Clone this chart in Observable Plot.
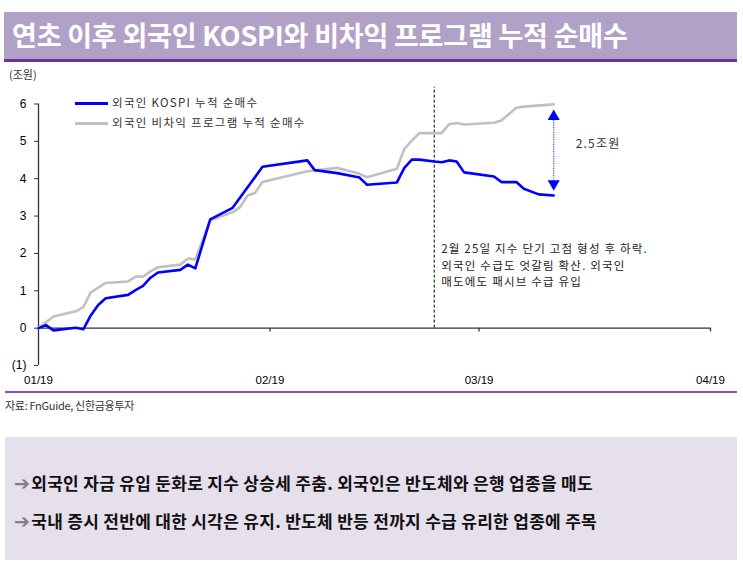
<!DOCTYPE html>
<html><head><meta charset="utf-8">
<script src="https://cdn.jsdelivr.net/npm/d3@7"></script>
<script src="https://cdn.jsdelivr.net/npm/@observablehq/plot@0.6"></script>
<style>
html,body{margin:0;padding:0;background:#fff;}
#page{position:relative;width:743px;height:565px;overflow:hidden;font-family:"Noto Sans CJK KR","Noto Sans",sans-serif;}
#title{position:absolute;left:4px;top:12px;width:733px;height:47px;background:#b2a1c7;border-bottom:3px solid #7030a0;}
#title span{position:absolute;left:8px;top:3px;color:#fff;font-weight:700;font-size:27px;letter-spacing:-0.2px;white-space:nowrap;}
#unit{position:absolute;left:9px;top:66px;font-size:11px;color:#333;}
#chart{position:absolute;left:0;top:64px;}
#chart text.kr{letter-spacing:1.2px;}
.leg{position:absolute;left:75px;width:33px;height:3px;}
.legt{position:absolute;left:112px;font-size:11.5px;color:#333;white-space:nowrap;letter-spacing:1.3px;}
#rule{position:absolute;left:5px;top:391px;width:732px;height:2px;background:#8a50c0;}
#src{position:absolute;left:5px;top:397px;font-size:11px;color:#333;letter-spacing:-0.3px;font-family:"Liberation Sans Narrow","Noto Sans CJK KR",sans-serif;}
#box{position:absolute;left:5px;top:437px;width:732px;height:123px;background:#e5e0ec;}
.bul{position:absolute;left:9px;font-size:17px;font-weight:700;color:#111;white-space:nowrap;letter-spacing:0.3px;}
.bul b{font-family:"DejaVu Sans";color:#7f7f7f;font-size:19px;line-height:17px;margin-right:1px;}
</style></head>
<body><div id="page">
<div id="title"><span>연초 이후 외국인 KOSPI와 비차익 프로그램 누적 순매수</span></div>
<div id="unit">(조원)</div>
<div id="chart"></div>
<div class="leg" style="top:102px;background:#0000ff"></div>
<div class="legt" style="top:94px">외국인 KOSPI 누적 순매수</div>
<div class="leg" style="top:122px;background:#c0c0c0"></div>
<div class="legt" style="top:114px">외국인 비차익 프로그램 누적 순매수</div>
<div id="rule"></div>
<div id="src">자료: FnGuide, 신한금융투자</div>
<div id="box">
<div class="bul" style="top:33px"><b>➔</b>외국인 자금 유입 둔화로 지수 상승세 주춤. 외국인은 반도체와 은행 업종을 매도</div>
<div class="bul" style="top:71px"><b>➔</b>국내 증시 전반에 대한 시각은 유지. 반도체 반등 전까지 수급 유리한 업종에 주목</div>
</div>
</div>
<script>
const blueDates = ["2019-01-01","2019-01-02","2019-01-03","2019-01-06","2019-01-07","2019-01-08","2019-01-09","2019-01-10","2019-01-13","2019-01-14","2019-01-15","2019-01-16","2019-01-17","2019-01-20","2019-01-21","2019-01-22","2019-01-24","2019-01-27","2019-01-31","2019-02-06","2019-02-07","2019-02-10","2019-02-13","2019-02-14","2019-02-18","2019-02-19","2019-02-20","2019-02-21","2019-02-23","2019-02-24","2019-02-25","2019-02-26","2019-02-27","2019-03-03","2019-03-04","2019-03-06","2019-03-07","2019-03-09","2019-03-11"];
const blueValues = [0,0.08,-0.06,0.01,-0.03,0.34,0.62,0.80,0.89,1.02,1.13,1.35,1.49,1.56,1.70,1.60,2.91,3.22,4.32,4.49,4.23,4.15,4.03,3.84,3.90,4.29,4.51,4.51,4.46,4.44,4.49,4.46,4.17,4.06,3.91,3.91,3.73,3.58,3.55];
const greyDates = ["2019-01-01","2019-01-03","2019-01-06","2019-01-07","2019-01-08","2019-01-10","2019-01-13","2019-01-14","2019-01-15","2019-01-16","2019-01-17","2019-01-20","2019-01-21","2019-01-22","2019-01-24","2019-01-27","2019-01-28","2019-01-29","2019-01-30","2019-01-31","2019-02-06","2019-02-10","2019-02-13","2019-02-14","2019-02-18","2019-02-19","2019-02-20","2019-02-21","2019-02-24","2019-02-25","2019-02-26","2019-02-27","2019-03-03","2019-03-04","2019-03-06","2019-03-07","2019-03-11"];
const greyValues = [0,0.31,0.45,0.56,0.96,1.21,1.25,1.38,1.38,1.52,1.63,1.70,1.86,1.84,2.89,3.10,3.24,3.55,3.62,3.91,4.20,4.29,4.13,4.04,4.27,4.80,5.02,5.22,5.22,5.46,5.49,5.45,5.50,5.56,5.90,5.93,5.99];
const xTickDates = ["2019-01-01","2019-02-01","2019-03-01","2019-04-01"];
const yTicks = [-1,0,1,2,3,4,5,6];
const eventDate = "2019-02-23";
const eventTop = 6.45;
const gapTop = 5.77, gapBottom = 3.76;
const gapLabel = "2.5조원";
const noteText = "2월 25일 지수 단기 고점 형성 후 하락.\n외국인 수급도 엇갈림 확산. 외국인\n매도에도 패시브 수급 유입";
const noteY = 2.33;

const P = d3.utcParse("%Y-%m-%d");
const blue = blueDates.map((d,i)=>({date:P(d), v:blueValues[i]}));
const grey = greyDates.map((d,i)=>({date:P(d), v:greyValues[i]}));
const xTicks = xTickDates.map(P);
const ev = P(eventDate);
const last = blue[blue.length-1].date;

const chart = Plot.plot({
  width: 743, height: 326,
  marginLeft: 38, marginRight: 33, marginTop: 39.5, marginBottom: 25,
  style: {fontFamily: "'Liberation Sans', Arial, sans-serif", fontSize: "12px", color: "#000", background: "transparent", overflow: "visible"},
  x: {type: "utc", domain: [xTicks[0], xTicks[xTicks.length-1]]},
  y: {domain: [-1, 6]},
  marks: [
    Plot.axisY({ticks: yTicks, tickSize: 4, tickPadding: 8, tickFormat: d => d < 0 ? `(${-d})` : `${d}`, label: null, stroke: "#333", fill: "#000", fontSize: 12}),
    Plot.axisX({ticks: xTicks, tickSize: 0, tickPadding: 10, tickFormat: d3.utcFormat("%m/%y"), label: null, fontSize: 11.5}),
    Plot.ruleX([xTicks[0]], {y1: -1, y2: 6, stroke: "#333", strokeWidth: 1.3}),
    Plot.ruleY([0], {x1: xTicks[0], x2: xTicks[xTicks.length-1], stroke: "#333", strokeWidth: 1.3}),
    Plot.ruleX(xTicks.slice(1), {y1: 0, y2: -0.1, stroke: "#333", strokeWidth: 1.3}),
    Plot.ruleX([ev], {y1: 0, y2: eventTop, stroke: "#000", strokeWidth: 1, strokeDasharray: "3,2"}),
    Plot.line(grey, {x: "date", y: "v", stroke: "#c0c0c0", strokeWidth: 2.6}),
    Plot.line(blue, {x: "date", y: "v", stroke: "#0000ff", strokeWidth: 2.6}),
    Plot.link([{x: last, y1: gapTop, y2: gapBottom}], {x1: "x", x2: "x", y1: "y1", y2: "y2", stroke: "#4040ff", strokeWidth: 1.2, strokeDasharray: "1.2,1.2", insetTop: 6, insetBottom: 6}),
    Plot.dot([{x: last, y: gapTop}], {x: "x", y: "y", symbol: "triangle", r: 4.5, fill: "#0000ff", stroke: "none", dy: 4}),
    Plot.dot([{x: last, y: gapBottom}], {x: "x", y: "y", symbol: "triangle", r: 4.5, fill: "#0000ff", stroke: "none", rotate: 180, dy: -4}),
    Plot.text([gapLabel], {x: last, y: (gapTop + gapBottom) / 2, dx: 22, dy: -6, textAnchor: "start", fill: "#333", fontSize: 12, fontFamily: "'Noto Sans CJK KR', sans-serif"}),
    Plot.text([noteText], {x: ev, y: noteY, dx: 7, textAnchor: "start", lineAnchor: "top", lineHeight: 1.45, fill: "#222", fontSize: 11.5, fontFamily: "'Noto Sans CJK KR', sans-serif"})
  ]
});
d3.select(chart).selectAll("text").filter(function(){ return /[\uAC00-\uD7A3]/.test(this.textContent); }).classed("kr", true);
document.getElementById("chart").appendChild(chart);
</script>
</body></html>
